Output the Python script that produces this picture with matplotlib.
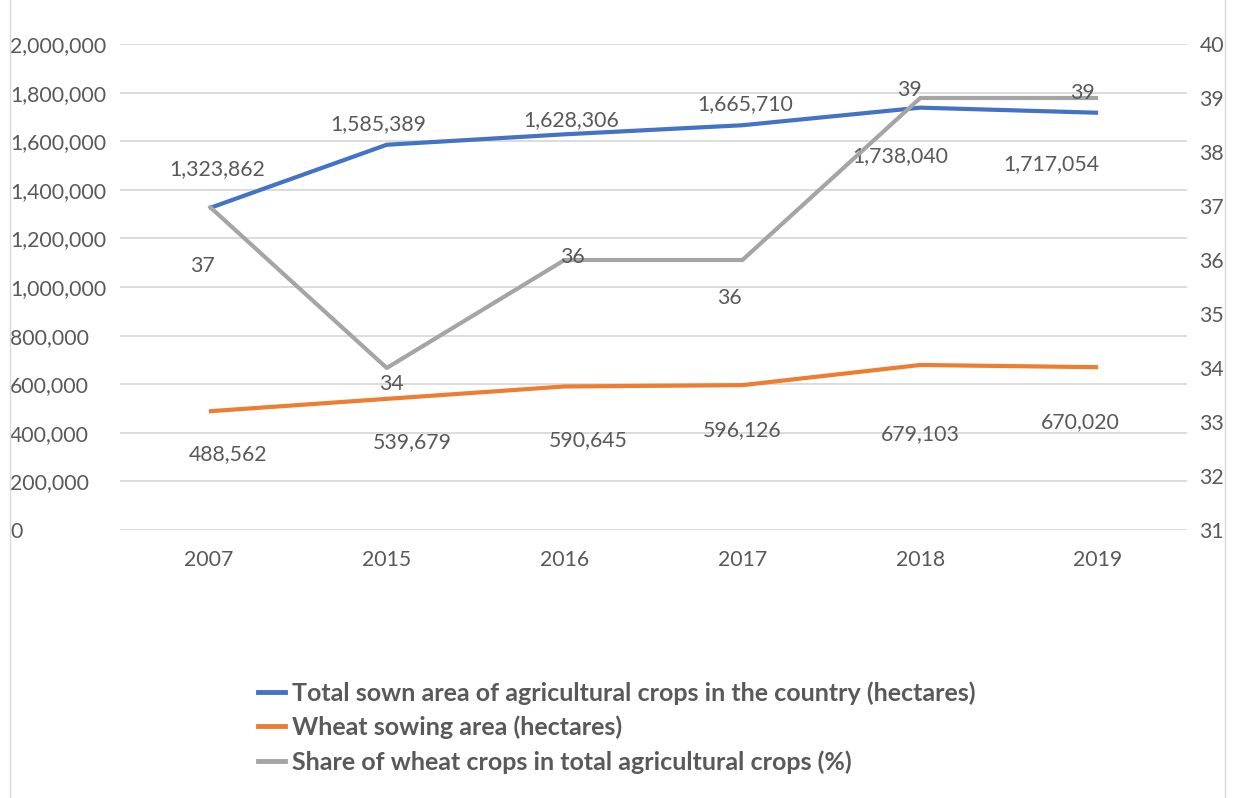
import matplotlib
matplotlib.use("Agg")
import matplotlib.pyplot as plt
from matplotlib.lines import Line2D
import numpy as np

plt.rcParams['font.family'] = ['Lato', 'DejaVu Sans']

years = ['2007', '2015', '2016', '2017', '2018', '2019']
total_area = [1323862, 1585389, 1628306, 1665710, 1738040, 1717054]
wheat_area = [488562, 539679, 590645, 596126, 679103, 670020]
wheat_share = [37, 34, 36, 36, 39, 39]

total_label = 'Total sown area of agricultural crops in the country (hectares)'
wheat_label = 'Wheat sowing area (hectares)'
share_label = 'Share of wheat crops in total agricultural crops (%)'

BLUE = '#4472C4'
ORANGE = '#ED7D31'
GRAY = '#A5A5A5'
TXT = '#595959'
GRID = '#D9D9D9'
FS = 15.3

# label offsets in pixels (dx right, dy down) for each point
total_off = [(8, -39), (-8, -21), (7, -14), (3, -21), (-20, 48), (-47, 51)]
wheat_off = [(19, 43), (26, 43), (24, 54), (0, 45), (0, 69), (-18, 55)]
share_off = [(-6, 60), (5, 16), (8, -3), (-13, 38), (-11, -8), (-16, -5)]

W, H = 1235, 798
fig = plt.figure(figsize=(W / 100, H / 100), dpi=100)
ax = fig.add_axes([120 / W, 1 - 530 / H, (1187 - 120) / W, (530 - 44) / H])
ax2 = ax.twinx()

x = np.arange(len(years))
ax.plot(x, total_area, color=BLUE, lw=3, solid_capstyle='butt', zorder=3)
ax.plot(x, wheat_area, color=ORANGE, lw=3, solid_capstyle='butt', zorder=3)
ax2.plot(x, wheat_share, color=GRAY, lw=3, solid_capstyle='butt', zorder=3)

ax.set_xlim(-0.5, 5.5)
ax.set_ylim(0, 2000000)
ax2.set_ylim(31, 40)
ax.set_yticks(np.arange(0, 2000001, 200000))
ax.set_yticklabels([f'{v:,}' for v in range(0, 2000001, 200000)])
ax2.set_yticks(range(31, 41))
ax.set_xticks(x)
ax.set_xticklabels(years)

ax.grid(axis='y', color=GRID, lw=1.3)
ax.set_axisbelow(True)
for a in (ax, ax2):
    for s in a.spines.values():
        s.set_visible(False)
ax.tick_params(axis='x', length=0, pad=14.5, labelsize=FS, labelcolor=TXT)
ax.tick_params(axis='y', length=0, pad=79, labelsize=FS, labelcolor=TXT)
for t in ax.get_yticklabels():
    t.set_horizontalalignment('left')
ax2.tick_params(axis='y', length=0, pad=9, labelsize=FS, labelcolor=TXT)


def put_labels(a, vals, offs, fmt):
    for i, (v, (dx, dy)) in enumerate(zip(vals, offs)):
        a.annotate(fmt(v), (x[i], v), xytext=(dx * 0.72, -dy * 0.72),
                   textcoords='offset points', ha='center', va='center',
                   fontsize=FS, color=TXT, zorder=5)


put_labels(ax, total_area, total_off, lambda v: f'{v:,}')
put_labels(ax, wheat_area, wheat_off, lambda v: f'{v:,}')
put_labels(ax2, wheat_share, share_off, lambda v: f'{v}')

handles = [Line2D([], [], color=c, lw=3.5) for c in (BLUE, ORANGE, GRAY)]
leg = fig.legend(handles, [total_label, wheat_label, share_label],
                 loc='upper left', bbox_to_anchor=(258 / W, 1 - 681 / H),
                 frameon=False, borderpad=0, borderaxespad=0,
                 handlelength=1.07, handletextpad=0.27, labelspacing=0.44,
                 prop={'size': 18, 'weight': 'bold'})
for t in leg.get_texts():
    t.set_color(TXT)

# thin chart frame on the sides
for xp in (10, 1225):
    fig.add_artist(Line2D([xp / W, xp / W], [0, 1], color=GRID, lw=1))

fig.savefig('out.png', dpi=100, facecolor='white')
